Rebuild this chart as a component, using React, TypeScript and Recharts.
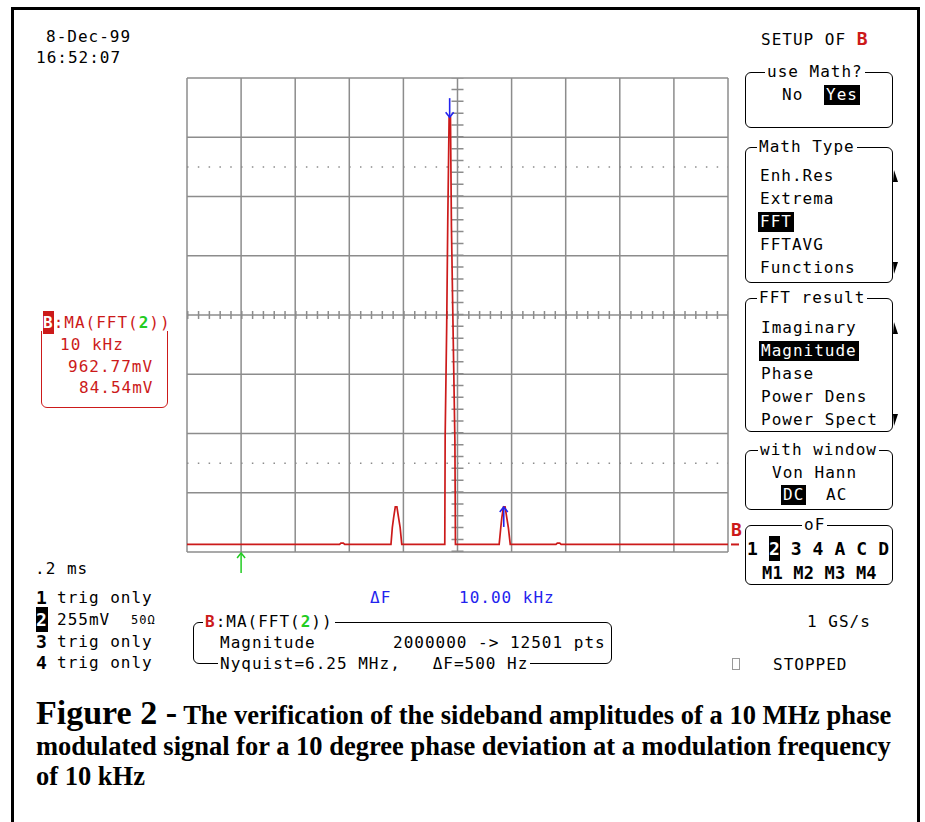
import React from "react";
import {
  LineChart,
  Line,
  XAxis,
  YAxis,
  ReferenceLine,
  ReferenceDot,
} from "recharts";

// spectrum around the 10 MHz carrier, frequency in kHz, magnitude in mV
const FREQ_KHZ = [
  9950, 9978.2, 9978.45, 9978.9, 9979.15,
  9987.7, 9987.95, 9988.2, 9988.5, 9988.8, 9989.1, 9989.4, 9989.7,
  9997.65, 9997.72, 9998.0, 9998.2, 9998.45, 9998.7, 9998.88, 9999.2, 9999.52, 9999.62,
  10007.7, 10008.0, 10008.2, 10008.5, 10008.8, 10009.1, 10009.4, 10009.75,
  10018.2, 10018.45, 10018.9, 10019.15,
  10050,
];
const MAGNITUDE_MV = [
  0, 0, 3, 3, 0,
  0, 38, 61, 84.5, 84.5, 61, 38, 0,
  0, 246, 490, 727, 962.77, 962.77, 715, 471, 234, 0,
  0, 38, 61, 84.5, 84.5, 61, 38, 0,
  0, 3, 3, 0,
  0,
];

// cursors (blue arrows) and the trigger marker
const CURSOR_FREQ = [9998.55, 10008.55];
const CURSOR_MAG = [962.77, 84.54];
const TRIGGER_FREQ = 9960;

// screen graticule: 10 x 8 divisions
const X_MIN = 9950;
const X_MAX = 10050;
const Y_MIN = -17;
const Y_MAX = 1051;
const X_GRID = [9950, 9960, 9970, 9980, 9990, 10000, 10010, 10020, 10030, 10040, 10050];
const Y_GRID = [-17, 116.5, 250, 383.5, 517, 650.5, 784, 917.5, 1051];
const X_CENTER = 10000;
const Y_CENTER = 517;
const Y_DOTTED = [183.25, 850.75];

const data = FREQ_KHZ.map((f, i) => ({ f, mag: MAGNITUDE_MV[i] }));

const MONO = '"DejaVu Sans Mono", monospace';
const SERIF = '"Liberation Serif", serif';
const RED = "#cc1a1a";
const BLUE = "#2323ee";
const GREEN = "#22cc22";
const GRID = "#8c8c8c";

type TxtProps = {
  x: number;
  cy: number;
  children: React.ReactNode;
  color?: string;
  size?: number;
  bold?: boolean;
  bg?: string;
  pad?: number;
  ls?: number;
};

function Txt({ x, cy, children, color = "#000", size = 16, bold = false, bg, pad = 0, ls = 1 }: TxtProps) {
  return (
    <div
      style={{
        position: "absolute",
        left: x - (bg ? 2 : 0),
        top: cy - size * 0.48 - pad,
        fontFamily: MONO,
        fontSize: size,
        lineHeight: `${size}px`,
        letterSpacing: ls,
        color,
        fontWeight: bold ? 700 : 400,
        whiteSpace: "pre",
        background: bg,
        padding: bg ? `${pad}px 2px` : undefined,
      }}
    >
      {children}
    </div>
  );
}

function Box({ x, y, w, h, color = "#000" }: { x: number; y: number; w: number; h: number; color?: string }) {
  return (
    <div
      style={{
        position: "absolute",
        left: x,
        top: y,
        width: w,
        height: h,
        boxSizing: "border-box",
        border: `1.5px solid ${color}`,
        borderRadius: 6,
      }}
    />
  );
}

const inv = (bg: string) => ({ background: bg, color: "#fff", padding: "2px 0" });

function ScrollMark({ x, y, up }: { x: number; y: number; up: boolean }) {
  return (
    <svg style={{ position: "absolute", left: x, top: y }} width={6} height={12}>
      <polygon points={up ? "1,0 5,12 0,12" : "0,0 5,0 1,12"} fill="#000" />
    </svg>
  );
}

function DownArrow(props: any) {
  const { cx, cy } = props;
  return (
    <g stroke={BLUE} strokeWidth={1.6} fill="none">
      <line x1={cx} y1={cy - 19} x2={cx} y2={cy} />
      <polyline points={`${cx - 4},${cy - 5} ${cx},${cy} ${cx + 4},${cy - 5}`} />
    </g>
  );
}

function UpArrow(props: any) {
  const { cx, cy } = props;
  return (
    <g stroke={BLUE} strokeWidth={1.6} fill="none">
      <line x1={cx} y1={cy} x2={cx} y2={cy + 20} />
      <polyline points={`${cx - 4},${cy + 5} ${cx},${cy} ${cx + 4},${cy + 5}`} />
    </g>
  );
}

function TriggerArrow(props: any) {
  const { cx, cy } = props;
  return (
    <g stroke={GREEN} strokeWidth={1.5} fill="none">
      <line x1={cx} y1={cy + 1} x2={cx} y2={cy + 21} />
      <polyline points={`${cx - 4},${cy + 6} ${cx},${cy + 1} ${cx + 4},${cy + 6}`} />
    </g>
  );
}

function TraceMarker(props: any) {
  const { cx, cy } = props;
  return (
    <g>
      <text x={cx + 3} y={cy - 8} fill={RED} fontFamily={MONO} fontWeight={700} fontSize={18}>
        B
      </text>
      <line x1={cx + 3} y1={cy} x2={cx + 11} y2={cy} stroke={RED} strokeWidth={2} />
    </g>
  );
}

const captionStyle: React.CSSProperties = {
  position: "absolute",
  left: 36,
  fontFamily: SERIF,
  fontWeight: 700,
  fontSize: 26.5,
  lineHeight: "30px",
  whiteSpace: "nowrap",
};

export default function App() {
  return (
    <div
      style={{
        position: "absolute",
        left: 0,
        top: 0,
        width: 925,
        height: 822,
        background: "#fff",
        overflow: "hidden",
        fontFamily: MONO,
      }}
    >
      {/* figure frame */}
      <div
        style={{
          position: "absolute",
          left: 11,
          top: 7,
          width: 909,
          height: 900,
          boxSizing: "border-box",
          border: "3px solid #000",
        }}
      />

      <Txt x={46} cy={36.5}>8-Dec-99</Txt>
      <Txt x={36} cy={57.5}>16:52:07</Txt>

      <div style={{ position: "absolute", left: 177, top: 68 }}>
        <LineChart
          width={567}
          height={509}
          data={data}
          margin={{ top: 10, right: 16, bottom: 25, left: 10 }}
        >
          <XAxis
            dataKey="f"
            type="number"
            domain={[X_MIN, X_MAX]}
            ticks={X_GRID}
            allowDataOverflow
            tick={false}
            tickLine={false}
            axisLine={false}
            height={0}
          />
          <YAxis
            type="number"
            domain={[Y_MIN, Y_MAX]}
            ticks={Y_GRID}
            allowDataOverflow
            tick={false}
            tickLine={false}
            axisLine={false}
            width={0}
          />
          {X_GRID.map((v) => (
            <ReferenceLine key={`gx${v}`} x={v} stroke={GRID} strokeWidth={1.5} />
          ))}
          {Y_GRID.map((v) => (
            <ReferenceLine key={`gy${v}`} y={v} stroke={GRID} strokeWidth={1.5} />
          ))}
          {Y_DOTTED.map((v) => (
            <ReferenceLine key={`d${v}`} y={v} stroke={GRID} strokeWidth={1.5} strokeDasharray="1.5 9.31" />
          ))}
          <ReferenceLine y={Y_CENTER} stroke={GRID} strokeWidth={8} strokeDasharray="1.5 9.31" />
          <ReferenceLine x={X_CENTER} stroke={GRID} strokeWidth={12} strokeDasharray="1.5 10.34" />
          <Line
            type="linear"
            dataKey="mag"
            stroke={RED}
            strokeWidth={1.7}
            dot={false}
            isAnimationActive={false}
          />
          <ReferenceDot x={CURSOR_FREQ[0]} y={CURSOR_MAG[0]} ifOverflow="visible" shape={DownArrow} />
          <ReferenceDot x={CURSOR_FREQ[1]} y={CURSOR_MAG[1]} ifOverflow="visible" shape={UpArrow} />
          <ReferenceDot x={TRIGGER_FREQ} y={Y_MIN} ifOverflow="visible" shape={TriggerArrow} />
          <ReferenceDot x={X_MAX} y={0} ifOverflow="visible" shape={TraceMarker} />
        </LineChart>
      </div>

      {/* math trace readout */}
      <Box x={41} y={323} w={127} h={85} color={RED} />
      <Txt x={43} cy={323} color={RED} bg="#fff" pad={0}>
        <span style={{ ...inv(RED), fontWeight: 700 }}>B</span>:MA(FFT(
        <span style={{ color: GREEN, fontWeight: 700 }}>2</span>))
      </Txt>
      <Txt x={60} cy={345} color={RED}>10 kHz</Txt>
      <Txt x={68} cy={367} color={RED}>962.77mV</Txt>
      <Txt x={79} cy={388} color={RED}>84.54mV</Txt>

      {/* setup menu */}
      <Txt x={761} cy={39}>
        SETUP OF <span style={{ color: RED, fontWeight: 700, fontSize: 18 }}>B</span>
      </Txt>

      <Box x={745} y={72} w={148} h={56} />
      <Txt x={767} cy={72} bg="#fff">use Math?</Txt>
      <Txt x={782} cy={95}>No</Txt>
      <Txt x={826} cy={95} bg="#000" color="#fff" pad={2}>Yes</Txt>

      <Box x={745} y={147} w={148} h={136} />
      <Txt x={759} cy={147} bg="#fff">Math Type</Txt>
      <Txt x={760} cy={176}>Enh.Res</Txt>
      <Txt x={760} cy={199}>Extrema</Txt>
      <Txt x={760} cy={222} bg="#000" color="#fff" pad={2}>FFT</Txt>
      <Txt x={760} cy={245}>FFTAVG</Txt>
      <Txt x={760} cy={268}>Functions</Txt>
      <ScrollMark x={893} y={170} up />
      <ScrollMark x={893} y={262} up={false} />

      <Box x={745} y={298} w={148} h={134} />
      <Txt x={759} cy={298} bg="#fff">FFT result</Txt>
      <Txt x={761} cy={328}>Imaginary</Txt>
      <Txt x={761} cy={351} bg="#000" color="#fff" pad={2}>Magnitude</Txt>
      <Txt x={761} cy={374}>Phase</Txt>
      <Txt x={761} cy={397}>Power Dens</Txt>
      <Txt x={761} cy={420}>Power Spect</Txt>
      <ScrollMark x={893} y={322} up />
      <ScrollMark x={893} y={414} up={false} />

      <Box x={745} y={450} w={148} h={60} />
      <Txt x={760} cy={450} bg="#fff">with window</Txt>
      <Txt x={772} cy={473}>Von Hann</Txt>
      <Txt x={783} cy={495} bg="#000" color="#fff" pad={2}>DC</Txt>
      <Txt x={826} cy={495}>AC</Txt>

      <Box x={745} y={525} w={148} h={60} />
      <Txt x={804} cy={525} bg="#fff">oF</Txt>
      <Txt x={747} cy={549} size={18} bold ls={0.1}>
        1 <span style={inv("#000")}>2</span> 3 4 A C D
      </Txt>
      <Txt x={762} cy={573} size={17} bold ls={0.2}>M1 M2 M3 M4</Txt>

      {/* channel status */}
      <Txt x={35} cy={569}>.2 ms</Txt>
      <Txt x={36} cy={598} size={18} bold>1</Txt>
      <Txt x={57} cy={598}>trig only</Txt>
      <Txt x={36} cy={620} size={18} bold>
        <span style={inv("#000")}>2</span>
      </Txt>
      <Txt x={57} cy={620}>255mV</Txt>
      <Txt x={131} cy={620} size={12}>50Ω</Txt>
      <Txt x={36} cy={642} size={18} bold>3</Txt>
      <Txt x={57} cy={642}>trig only</Txt>
      <Txt x={36} cy={663} size={18} bold>4</Txt>
      <Txt x={57} cy={663}>trig only</Txt>

      <Txt x={370} cy={598} color={BLUE}>ΔF</Txt>
      <Txt x={459} cy={598} color={BLUE}>10.00 kHz</Txt>

      <Box x={193} y={622} w={419} h={42} />
      <Txt x={205} cy={622} bg="#fff">
        <span style={{ color: RED, fontWeight: 700 }}>B</span>:MA(FFT(
        <span style={{ color: GREEN, fontWeight: 700 }}>2</span>))
      </Txt>
      <Txt x={220} cy={643}>Magnitude</Txt>
      <Txt x={393} cy={643}>2000000 -&gt; 12501 pts</Txt>
      <Txt x={220} cy={664} bg="#fff">Nyquist=6.25 MHz,   ΔF=500 Hz</Txt>

      <Txt x={807} cy={622}>1 GS/s</Txt>
      <div
        style={{
          position: "absolute",
          left: 732,
          top: 658,
          width: 8,
          height: 12,
          boxSizing: "border-box",
          border: "1px solid #999",
        }}
      />
      <Txt x={773} cy={665}>STOPPED</Txt>

      {/* caption */}
      <div style={{ ...captionStyle, top: 697.5 }}>
        <span style={{ fontSize: 34 }}>Figure 2 -</span> The verification of the sideband amplitudes of a 10 MHz phase
      </div>
      <div style={{ ...captionStyle, top: 730.5 }}>
        modulated signal for a 10 degree phase deviation at a modulation frequency
      </div>
      <div style={{ ...captionStyle, top: 760.5 }}>of 10 kHz</div>
    </div>
  );
}
